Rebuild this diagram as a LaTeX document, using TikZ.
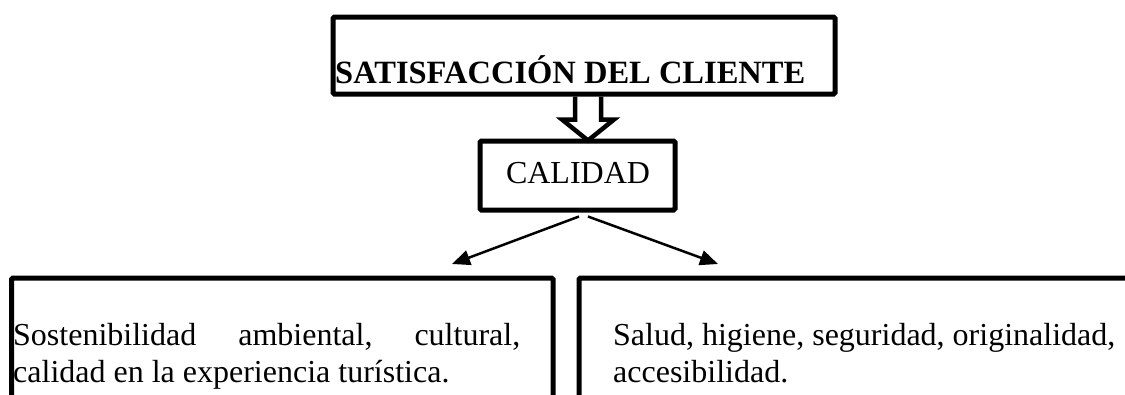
\documentclass[tikz,border=0pt]{standalone}
\usepackage{fontspec}
\setmainfont{Liberation Serif}
\usetikzlibrary{arrows.meta,calc}
\begin{document}
\begin{tikzpicture}[x=1pt,y=-1pt,
  box/.style={draw, line width=5pt, rounded corners=1.5pt, inner sep=0pt},
  txt/.style={inner sep=0pt, font=\fontsize{32}{37}\selectfont},
  hollow/.style={draw, line width=4.5pt, miter limit=10},
  thinarrow/.style={line width=2.5pt, -{Triangle[length=18pt,width=15pt]}}]
\useasboundingbox (0,0) rectangle (1125,394);
\clip (0,0) rectangle (1125,394);
% boxes
\node[box, minimum width=502pt, minimum height=77pt] (top) at (584,55.5) {};
\node[box, minimum width=195pt, minimum height=69pt] (cal) at (577.5,175.5) {};
\node[box, minimum width=541.5pt, minimum height=160pt] (left) at (282.25,358) {};
\node[box, minimum width=560pt, minimum height=160pt] (right) at (859,358) {};
% texts
\node[txt, anchor=base west, font=\fontsize{32.5}{37}\selectfont\bfseries] (title) at (335,83) {SATISFACCIÓN DEL CLIENTE};
\node[txt, anchor=base] (caltext) at (578,183) {CALIDAD};
\node[txt, anchor=base west] (l1) at (13,345) {\makebox[507pt][s]{Sostenibilidad\hfill ambiental,\hfill cultural,}};
\node[txt, anchor=base west] (l2) at (13,382) {calidad en la experiencia turística.};
\node[txt, anchor=base west] (r1) at (613,345) {Salud, higiene, seguridad, originalidad,};
\node[txt, anchor=base west] (r2) at (613,382) {accesibilidad.};
% hollow arrow from top box to CALIDAD
\coordinate (ha) at ($(top.south)+(4,0)$);
\draw[hollow] ($(ha)+(-13,0)$) -- ($(ha)+(-13,23)$) -- ($(ha)+(-26,23)$) -- ($(ha)+(0,44)$) -- ($(ha)+(26,23)$) -- ($(ha)+(13,23)$) -- ($(ha)+(13,0)$);
% thin arrows
\coordinate (la) at (452,264);
\coordinate (ra) at (718,264);
\draw[thinarrow] ($(cal.south)+(1.5,4)$) -- (la);
\draw[thinarrow] ($(cal.south)+(10.5,4)$) -- (ra);
\end{tikzpicture}
\end{document}
